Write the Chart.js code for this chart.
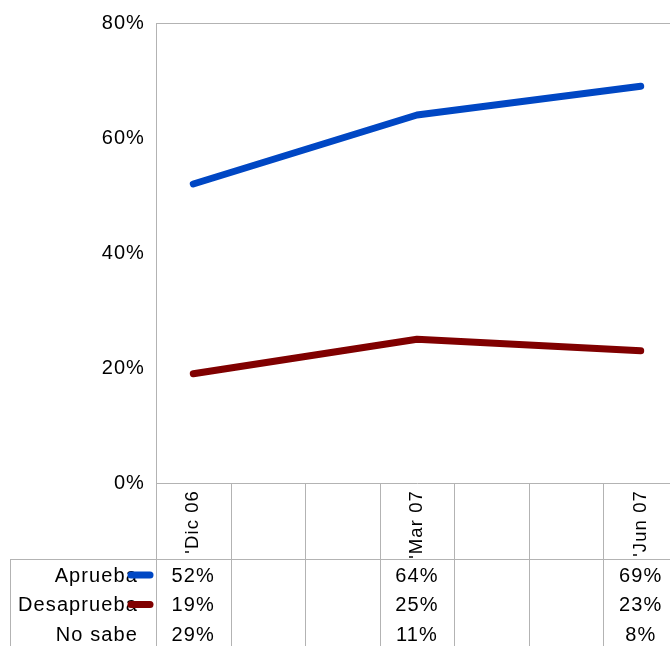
<!DOCTYPE html>
<html>
<head>
<meta charset="utf-8">
<title>Aprueba / Desaprueba</title>
<script src="https://cdn.jsdelivr.net/npm/chart.js@4"></script>
<style>
  html, body { margin: 0; padding: 0; overflow: hidden; background: #fff; }
  canvas { display: block; }
</style>
</head>
<body>
<canvas id="pollChart" width="678" height="646"></canvas>
<script>
// data
const categories = ["'Dic 06", "", "", "'Mar 07", "", "", "'Jun 07"];
const aprueba = [52, null, null, 64, null, null, 69];
const desaprueba = [19, null, null, 25, null, null, 23];
const noSabe = [29, null, null, 11, null, null, 8];
const yTicks = [0, 20, 40, 60, 80];

const gridColor = '#b3b3b3';
const tableTop = 559;

Chart.defaults.font.family = '"Liberation Sans", Arial, sans-serif';
Chart.defaults.color = '#000';

// table under the plot: column lines, row labels with line keys, values
const dataTable = {
    id: 'dataTable',
    beforeDraw(chart) {
        chart.ctx.letterSpacing = '1.1px';
    },
    afterDraw(chart) {
        const { ctx, chartArea, scales: { x } } = chart;
        const h = chart.height;
        ctx.save();
        ctx.strokeStyle = gridColor;
        ctx.lineWidth = 1;
        ctx.beginPath();
        ctx.moveTo(chartArea.left, chartArea.top + 0.5);
        ctx.lineTo(chartArea.right, chartArea.top + 0.5);
        for (let i = 0; i <= categories.length; i++) {
            const px = Math.round(x.getPixelForValue(i - 0.5)) + 0.5;
            ctx.moveTo(px, chartArea.bottom);
            ctx.lineTo(px, h);
        }
        ctx.moveTo(10, tableTop + 0.5);
        ctx.lineTo(chart.width, tableTop + 0.5);
        ctx.moveTo(10.5, tableTop);
        ctx.lineTo(10.5, h);
        ctx.stroke();

        ctx.font = '20px "Liberation Sans", Arial, sans-serif';
        ctx.textBaseline = 'middle';
        chart.data.datasets.forEach((ds, r) => {
            const cy = tableTop + 17 + r * 29.5;
            ctx.fillStyle = '#000';
            ctx.textAlign = 'right';
            ctx.fillText(ds.label, 138, cy);
            if (!ds.hidden) {
                ctx.strokeStyle = ds.borderColor;
                ctx.lineWidth = 7;
                ctx.lineCap = 'round';
                ctx.beginPath();
                ctx.moveTo(131, cy - 1);
                ctx.lineTo(150, cy - 1);
                ctx.stroke();
            }
            ctx.fillStyle = '#000';
            ctx.textAlign = 'center';
            ds.data.forEach((v, i) => {
                if (v !== null) ctx.fillText(v + '%', x.getPixelForValue(i), cy);
            });
        });
        ctx.restore();
    }
};

new Chart(document.getElementById('pollChart'), {
    type: 'line',
    data: {
        labels: categories,
        datasets: [
            { label: 'Aprueba', data: aprueba, borderColor: '#0047c4' },
            { label: 'Desaprueba', data: desaprueba, borderColor: '#800000' },
            { label: 'No sabe', data: noSabe, borderColor: '#ffffff', hidden: true }
        ]
    },
    options: {
        responsive: false,
        animation: false,
        spanGaps: true,
        layout: { padding: { top: 21, left: 0, right: 0, bottom: 0 } },
        elements: {
            line: { borderWidth: 7, tension: 0, borderCapStyle: 'round', borderJoinStyle: 'round' },
            point: { radius: 0, hoverRadius: 0 }
        },
        plugins: {
            legend: { display: false },
            tooltip: { enabled: false }
        },
        scales: {
            x: {
                offset: true,
                grid: { display: false, drawTicks: false },
                border: { display: true, color: gridColor },
                ticks: {
                    autoSkip: false,
                    minRotation: 90,
                    maxRotation: 90,
                    padding: 7,
                    font: { size: 18.5 }
                },
                afterFit(scale) { scale.height = 163; }
            },
            y: {
                min: 0,
                max: 80,
                grid: { display: false, drawTicks: false },
                border: { display: true, color: gridColor },
                ticks: {
                    padding: 11,
                    font: { size: 20 },
                    callback: v => v + '%'
                },
                afterBuildTicks(scale) { scale.ticks = yTicks.map(v => ({ value: v })); },
                afterFit(scale) { scale.width = 156; }
            }
        }
    },
    plugins: [dataTable]
});
</script>
</body>
</html>
